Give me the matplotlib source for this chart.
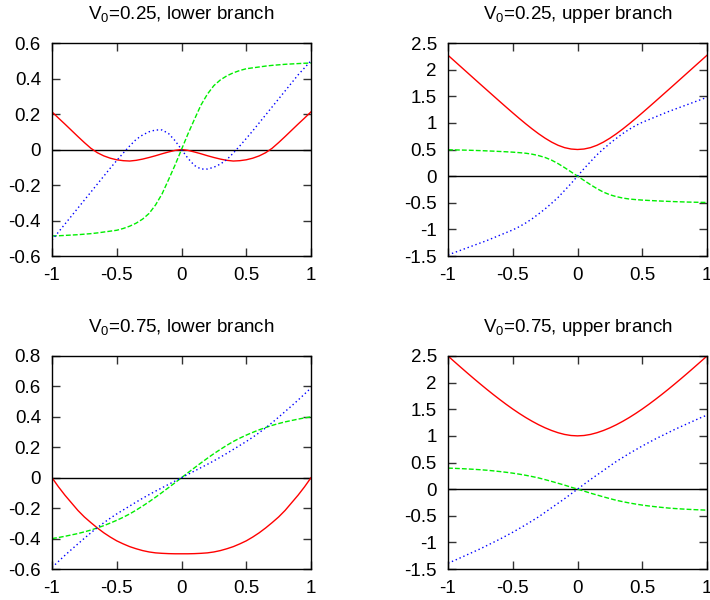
import matplotlib
matplotlib.use("Agg")
import matplotlib.pyplot as plt

plt.rcParams['font.family'] = ['Liberation Sans', 'DejaVu Sans']
plt.rcParams['mathtext.fontset'] = 'custom'
plt.rcParams['mathtext.rm'] = 'Liberation Sans'
plt.rcParams['mathtext.it'] = 'Liberation Sans'

# zajednicka x os, korak 0.05 (vrijednosti ocitane sa slike)
x = [-1.0, -0.95, -0.9, -0.85, -0.8, -0.75, -0.7, -0.65, -0.6, -0.55, -0.5,
     -0.45, -0.4, -0.35, -0.3, -0.25, -0.2, -0.15, -0.1, -0.05, 0.0,
     0.05, 0.1, 0.15, 0.2, 0.25, 0.3, 0.35, 0.4, 0.45, 0.5,
     0.55, 0.6, 0.65, 0.7, 0.75, 0.8, 0.85, 0.9, 0.95, 1.0]

x_ticks = [-1, -0.5, 0, 0.5, 1]
x_tick_labels = ["-1", "-0.5", "0", "0.5", "1"]

titles = ["V$_0$=0.25, lower branch", "V$_0$=0.25, upper branch",
          "V$_0$=0.75, lower branch", "V$_0$=0.75, upper branch"]

# --- V0=0.25, lower branch ---
red_1 = [0.212, 0.177, 0.143, 0.108, 0.073, 0.039, 0.007, -0.018, -0.036, -0.049, -0.058,
         -0.063, -0.065, -0.061, -0.054, -0.045, -0.035, -0.024, -0.014, -0.005, 0.0,
         -0.005, -0.014, -0.024, -0.035, -0.045, -0.054, -0.061, -0.065, -0.063, -0.058,
         -0.049, -0.036, -0.018, 0.007, 0.039, 0.073, 0.108, 0.143, 0.177, 0.212]
green_1 = [-0.487, -0.486, -0.484, -0.482, -0.48, -0.477, -0.474, -0.47, -0.465, -0.46, -0.455,
           -0.445, -0.432, -0.415, -0.392, -0.36, -0.312, -0.25, -0.17, -0.088, 0.0,
           0.088, 0.17, 0.25, 0.312, 0.36, 0.392, 0.415, 0.432, 0.445, 0.455,
           0.46, 0.465, 0.47, 0.474, 0.477, 0.48, 0.482, 0.484, 0.486, 0.487]
blue_1 = [-0.51, -0.465, -0.42, -0.375, -0.33, -0.285, -0.24, -0.195, -0.15, -0.105, -0.062,
          -0.02, 0.02, 0.057, 0.082, 0.10, 0.11, 0.11, 0.09, 0.05, 0.0,
          -0.05, -0.09, -0.11, -0.11, -0.10, -0.082, -0.057, -0.02, 0.02, 0.062,
          0.105, 0.15, 0.195, 0.24, 0.285, 0.33, 0.375, 0.42, 0.46, 0.50]
y_ticks_1 = [-0.6, -0.4, -0.2, 0, 0.2, 0.4, 0.6]
y_labels_1 = ["-0.6", "-0.4", "-0.2", "0", "0.2", "0.4", "0.6"]

# --- V0=0.25, upper branch ---
red_2 = [2.27, 2.161, 2.052, 1.943, 1.834, 1.725, 1.617, 1.509, 1.401, 1.294, 1.188,
         1.084, 0.983, 0.886, 0.795, 0.712, 0.639, 0.579, 0.535, 0.509, 0.5,
         0.509, 0.535, 0.579, 0.639, 0.712, 0.795, 0.886, 0.983, 1.084, 1.188,
         1.294, 1.401, 1.509, 1.617, 1.725, 1.834, 1.943, 2.052, 2.161, 2.27]
green_2 = [0.495, 0.492, 0.49, 0.487, 0.483, 0.479, 0.474, 0.469, 0.463, 0.457, 0.45,
           0.441, 0.43, 0.412, 0.385, 0.35, 0.30, 0.235, 0.16, 0.08, 0.0,
           -0.08, -0.16, -0.235, -0.30, -0.35, -0.385, -0.412, -0.43, -0.441, -0.45,
           -0.457, -0.463, -0.469, -0.474, -0.479, -0.483, -0.487, -0.49, -0.492, -0.495]
blue_2 = [-1.48, -1.435, -1.39, -1.345, -1.30, -1.255, -1.21, -1.16, -1.11, -1.06, -1.01,
          -0.95, -0.88, -0.80, -0.71, -0.615, -0.51, -0.40, -0.27, -0.14, 0.0,
          0.14, 0.27, 0.40, 0.51, 0.615, 0.71, 0.80, 0.88, 0.95, 1.01,
          1.06, 1.11, 1.16, 1.21, 1.255, 1.30, 1.345, 1.39, 1.435, 1.48]
y_ticks_2 = [-1.5, -1, -0.5, 0, 0.5, 1, 1.5, 2, 2.5]
y_labels_2 = ["-1.5", "-1", "-0.5", "0", "0.5", "1", "1.5", "2", "2.5"]

# --- V0=0.75, lower branch ---
red_3 = [0.0, -0.06, -0.115, -0.165, -0.215, -0.258, -0.295, -0.33, -0.362, -0.39, -0.415,
         -0.435, -0.453, -0.467, -0.479, -0.488, -0.494, -0.497, -0.499, -0.5, -0.5,
         -0.5, -0.499, -0.497, -0.494, -0.488, -0.479, -0.467, -0.453, -0.435, -0.415,
         -0.39, -0.362, -0.33, -0.295, -0.258, -0.215, -0.165, -0.115, -0.06, 0.0]
green_3 = [-0.40, -0.393, -0.385, -0.376, -0.367, -0.356, -0.344, -0.33, -0.315, -0.298, -0.28,
           -0.26, -0.238, -0.213, -0.186, -0.158, -0.128, -0.097, -0.065, -0.033, 0.0,
           0.033, 0.065, 0.097, 0.128, 0.158, 0.186, 0.213, 0.238, 0.26, 0.28,
           0.298, 0.315, 0.33, 0.344, 0.356, 0.367, 0.376, 0.385, 0.393, 0.40]
blue_3 = [-0.59, -0.55, -0.51, -0.472, -0.435, -0.398, -0.362, -0.328, -0.296, -0.266, -0.238,
          -0.212, -0.186, -0.16, -0.135, -0.111, -0.088, -0.066, -0.044, -0.022, 0.0,
          0.022, 0.044, 0.066, 0.088, 0.111, 0.135, 0.16, 0.186, 0.212, 0.238,
          0.266, 0.296, 0.328, 0.362, 0.398, 0.435, 0.472, 0.51, 0.55, 0.59]
y_ticks_3 = [-0.6, -0.4, -0.2, 0, 0.2, 0.4, 0.6, 0.8]
y_labels_3 = ["-0.6", "-0.4", "-0.2", "0", "0.2", "0.4", "0.6", "0.8"]

# --- V0=0.75, upper branch ---
red_4 = [2.5, 2.392, 2.285, 2.179, 2.075, 1.973, 1.873, 1.776, 1.682, 1.591, 1.504,
         1.422, 1.345, 1.274, 1.209, 1.151, 1.101, 1.059, 1.027, 1.007, 1.0,
         1.007, 1.027, 1.059, 1.101, 1.151, 1.209, 1.274, 1.345, 1.422, 1.504,
         1.591, 1.682, 1.776, 1.873, 1.973, 2.075, 2.179, 2.285, 2.392, 2.5]
green_4 = [0.395, 0.39, 0.385, 0.379, 0.372, 0.364, 0.355, 0.343, 0.33, 0.316, 0.30,
           0.281, 0.26, 0.236, 0.21, 0.178, 0.145, 0.11, 0.075, 0.037, 0.0,
           -0.037, -0.075, -0.11, -0.145, -0.178, -0.21, -0.236, -0.26, -0.281, -0.30,
           -0.316, -0.33, -0.343, -0.355, -0.364, -0.372, -0.379, -0.385, -0.39, -0.395]
blue_4 = [-1.39, -1.34, -1.285, -1.23, -1.175, -1.12, -1.06, -1.0, -0.94, -0.875, -0.81,
          -0.74, -0.67, -0.595, -0.52, -0.435, -0.35, -0.265, -0.18, -0.09, 0.0,
          0.09, 0.18, 0.265, 0.35, 0.435, 0.52, 0.595, 0.67, 0.74, 0.81,
          0.875, 0.94, 1.0, 1.06, 1.12, 1.175, 1.23, 1.285, 1.34, 1.39]

panels = [
    (red_1, green_1, blue_1, y_ticks_1, y_labels_1),
    (red_2, green_2, blue_2, y_ticks_2, y_labels_2),
    (red_3, green_3, blue_3, y_ticks_3, y_labels_3),
    (red_4, green_4, blue_4, y_ticks_2, y_labels_2),
]

fig = plt.figure(figsize=(7.1, 6.0), dpi=100)

# pozicije osi u pikselima (lijevo, gore) -> udjeli slike
W, H = 710.0, 600.0
boxes = [(52, 43), (448, 43), (52, 356), (448, 356)]
aw, ah = 259, 213

for i, (red, green, blue, yt, yl) in enumerate(panels):
    left, top = boxes[i]
    ax = fig.add_axes([left / W, 1 - (top + ah) / H, aw / W, ah / H])

    ax.axhline(0, color="black", lw=1.0)
    ax.plot(x, red, color="#ff0000", lw=1.0)
    ax.plot(x, green, color="#00ee00", lw=1.0, dashes=(3.5, 1.5))
    ax.plot(x, blue, color="#0000ff", lw=1.0, dashes=(1, 2))

    ax.set_xlim(-1, 1)
    ax.set_ylim(yt[0], yt[-1])
    ax.set_xticks(x_ticks)
    ax.set_xticklabels(x_tick_labels)
    ax.set_yticks(yt)
    ax.set_yticklabels(yl)
    ax.tick_params(direction="in", top=True, right=True, length=6, width=1,
                   labelsize=13.5, pad=8, color="#333333")
    for s in ax.spines.values():
        s.set_linewidth(1.0)
    ax.set_title(titles[i], fontsize=13.5, pad=17)

fig.savefig("out.png", dpi=100)
